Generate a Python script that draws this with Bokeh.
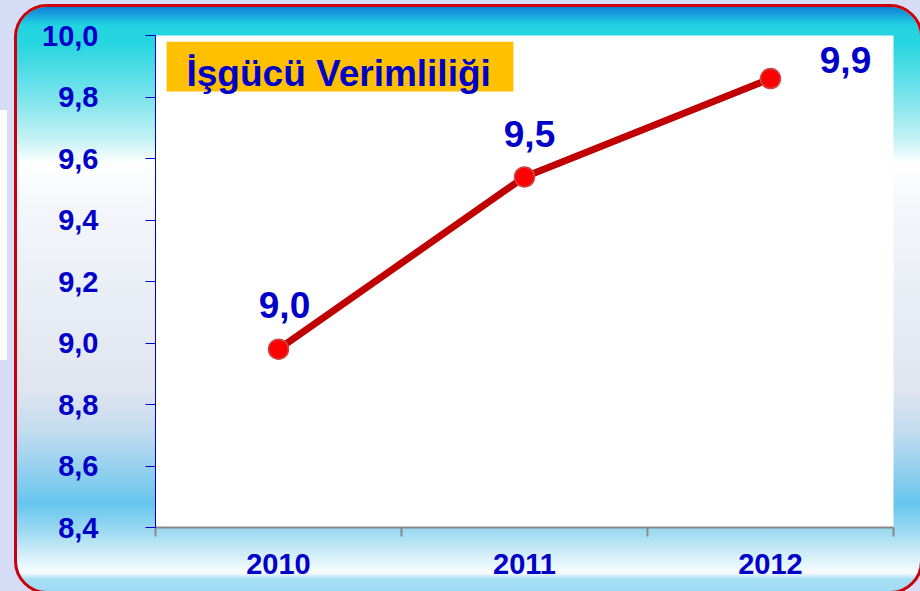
from bokeh.plotting import figure
from bokeh.models import Range1d, FixedTicker, BoxAnnotation, Label
from bokeh.layouts import column
from bokeh.embed import file_html
from bokeh.resources import INLINE

# ---- data ----
years = ["2010", "2011", "2012"]
values = [8.98, 9.54, 9.86]
y_ticks = [8.4, 8.6, 8.8, 9.0, 9.2, 9.4, 9.6, 9.8, 10.0]
title_text = "İşgücü Verimliliği"

# ---- styles ----
BLUE = "#0000c8"
FONT = "Liberation Sans"
BASE_FIX = 14  # compensation for label baseline placement
label_dx = [6, 5, 75]
label_dy = [30, 29, 5]

xs = [i + 0.5 for i in range(len(years))]

gradient = ("linear-gradient(to bottom, #0a7ed6 0px, #1898dc 6px, #1cbce0 13px, #22d4e0 19px, "
            "#26d6e0 37px, #7de4ec 92px, #c4f2f5 132px, #ffffff 157px, #f4f6fa 202px, "
            "#e9edf5 292px, #e0e5ef 382px, #c4dcef 422px, #94d0ee 462px, #66c5ee 497px, "
            "#a4dcf2 527px, #dcf2fb 552px, #f8fcff 566px, #a6def4 572px, #9edcf4 584px)")

p = figure(width=903, height=584, output_backend="svg", toolbar_location=None,
           x_range=Range1d(0, len(years)), y_range=Range1d(y_ticks[0], y_ticks[-1]),
           min_border_left=138, min_border_right=27, min_border_top=28, min_border_bottom=64)
p.styles = {"background": gradient, "border-radius": "30px",
            "outline": "3px solid #c8000a"}
p.border_fill_alpha = 0
p.background_fill_color = "white"
p.outline_line_color = None
p.xgrid.visible = False
p.ygrid.visible = False

# y axis
p.yaxis.ticker = FixedTicker(ticks=y_ticks)
p.yaxis.major_label_overrides = {t: f"{t:.1f}".replace(".", ",") for t in y_ticks}
p.yaxis.axis_line_color = BLUE
p.yaxis.major_tick_line_color = BLUE
p.yaxis.major_tick_out = 10
p.yaxis.major_tick_in = 0
p.yaxis.minor_tick_line_color = None
p.yaxis.major_label_text_font = FONT
p.yaxis.major_label_text_font_style = "bold"
p.yaxis.major_label_text_font_size = "29px"
p.yaxis.major_label_text_color = BLUE
p.yaxis.major_label_standoff = 47

# x axis
p.xaxis.ticker = FixedTicker(ticks=xs, minor_ticks=list(range(len(years) + 1)))
p.xaxis.major_label_overrides = {x: y for x, y in zip(xs, years)}
p.xaxis.axis_line_color = "#888888"
p.xaxis.axis_line_width = 2
p.xaxis.major_tick_line_color = None
p.xaxis.major_tick_out = 0
p.xaxis.major_tick_in = 0
p.xaxis.minor_tick_line_color = "#888888"
p.xaxis.minor_tick_line_width = 2
p.xaxis.minor_tick_out = 9
p.xaxis.minor_tick_in = 0
p.xaxis.major_label_text_font = FONT
p.xaxis.major_label_text_font_style = "bold"
p.xaxis.major_label_text_font_size = "29px"
p.xaxis.major_label_text_color = BLUE
p.xaxis.major_label_standoff = 17

# title box
p.add_layout(BoxAnnotation(left=0.045, right=1.455, top=9.98, bottom=9.818,
                           fill_color="#ffc000", fill_alpha=1, line_color=None, level="underlay"))
p.add_layout(Label(x=0.126, y=9.831, y_offset=BASE_FIX, text=title_text, text_font=FONT,
                   text_font_style="bold", text_font_size="37px", text_color=BLUE,
                   text_baseline="alphabetic"))

# line + markers
p.line(xs, values, line_color="#c00000", line_width=7)
p.scatter(xs, values, size=20, fill_color="#ff0000", line_color="#c84848", line_width=1.5)

for x, v, dx, dy in zip(xs, values, label_dx, label_dy):
    p.add_layout(Label(x=x, y=v, x_offset=dx, y_offset=dy + BASE_FIX,
                       text=f"{v:.1f}".replace(".", ","),
                       text_font=FONT, text_font_style="bold", text_font_size="37px",
                       text_color=BLUE, text_align="center", text_baseline="alphabetic"))

p.margin = (7, 0, 0, 17)
layout = column(p, styles={"background": "linear-gradient(white, white) 0px 110px / 7px 250px no-repeat, #d6dcf6"})

open("out.html", "w").write(file_html(layout, INLINE))
